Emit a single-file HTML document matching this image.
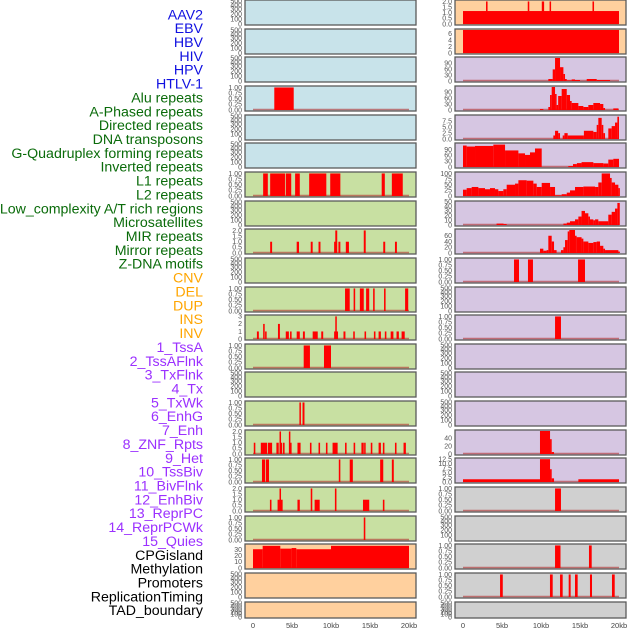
<!DOCTYPE html>
<html><head><meta charset="utf-8">
<style>
html,body{margin:0;padding:0;background:#fff;}
svg{display:block;font-family:"Liberation Sans",sans-serif;}
</style></head>
<body>
<svg id="chart" width="630" height="630" viewBox="0 0 630 630" xmlns="http://www.w3.org/2000/svg"></svg>
<script>
// ---- data ----
const featureLabels = ["AAV2","EBV","HBV","HIV","HPV","HTLV-1","Alu repeats","A-Phased repeats","Directed repeats","DNA transposons","G-Quadruplex forming repeats","Inverted repeats","L1 repeats","L2 repeats","Low_complexity A/T rich regions","Microsatellites","MIR repeats","Mirror repeats","Z-DNA motifs","CNV","DEL","DUP","INS","INV","1_TssA","2_TssAFlnk","3_TxFlnk","4_Tx","5_TxWk","6_EnhG","7_Enh","8_ZNF_Rpts","9_Het","10_TssBiv","11_BivFlnk","12_EnhBiv","13_ReprPC","14_ReprPCWk","15_Quies","CPGisland","Methylation","Promoters","ReplicationTiming","TAD_boundary"];
const labelColors = {virus:"#1010e0",repeat:"#0a6b0a",sv:"#ffa500",hmm:"#9b30ff",other:"#000"};
const xTickValues = [0,5000,10000,15000,20000];
const xTickLabels = ["0","5kb","10kb","15kb","20kb"];

// segments in kb: [start, end, value]
const L3 = [[2.73,5.22,1]];
const L6 = [[1.3,1.9,1],[2.2,4.1,1],[4.2,4.9,1],[5.4,6.0,1],[7.2,9.4,1],[9.9,11.2,1],[16.5,16.9,1],[17.8,19.2,1]];
const L8 = [[2.2,2.45,1],[5.6,5.9,1],[7.4,7.65,1],[8.4,8.65,1],[10.4,10.55,1],[10.55,10.8,2],[10.95,11.2,1],[11.9,12.3,1],[14.2,14.45,2],[16.7,16.95,1],[18.2,18.45,1]];
const L10 = [[11.8,12.4,1],[12.9,13.1,1],[13.7,14.2,1],[14.5,14.9,1],[15.4,15.6,1],[16.8,17.0,1],[19.5,19.9,1]];
const L11 = [[0.5,0.75,1],[1.3,1.5,2],[1.55,1.75,1],[3.2,3.45,2],[4.2,4.6,1],[4.75,4.95,1],[5.6,6.0,1],[6.4,6.65,1],[7.65,8.3,1],[8.75,9.0,1],[10.4,10.55,1],[10.55,10.7,3],[10.7,10.9,1],[11.6,11.85,1],[12.85,13.05,1],[14.3,14.5,1],[15.5,15.7,1],[16.1,16.4,1],[16.9,17.1,1],[17.65,18.0,1],[18.4,18.7,1],[19.05,19.45,1]];
const L12 = [[6.5,7.3,1],[9.1,10.0,1]];
const L14 = [[5.95,6.1,1],[6.35,6.6,1]];
const L15 = [[0.1,0.3,1],[1.0,1.8,1],[1.9,2.45,1],[3.0,3.3,1],[3.4,3.55,2],[3.55,3.7,1],[3.85,4.05,1],[4.6,4.75,2],[4.75,4.95,1],[5.7,6.1,1],[7.3,7.5,1],[8.4,8.6,1],[9.35,9.55,1],[10.2,10.85,1],[11.8,12.0,1],[12.9,13.1,1],[13.9,14.2,1],[14.25,14.4,1],[15.1,15.3,1],[16.1,16.4,1],[16.65,16.85,1],[18.2,18.4,1],[19.3,19.6,1]];
const L16 = [[1.15,1.55,1],[1.65,2.05,1],[11.0,11.2,1],[12.4,12.8,1],[16.3,16.7,1],[17.8,18.05,1]];
const L17 = [[2.17,2.37,1],[3.15,3.4,1],[3.4,3.55,2],[3.55,3.8,1],[5.7,6.0,1],[7.4,7.6,2],[7.9,8.55,1],[10.5,10.7,2],[14.1,14.9,1],[16.65,16.85,1]];
const L18 = [[14.2,14.4,1]];
const L19 = [[0,1.24,31],[1.24,3.5,36.6],[3.5,4.95,32],[4.95,5.55,33],[5.55,10.0,31],[10.0,20,36.6]];

const R0 = [[0,20,1.15],[2.95,3.15,2],[8.3,8.5,2],[10.1,10.4,2],[11.1,11.25,2],[16.6,16.8,2]];
const R1 = [[0,20,7.2]];
const R2 = [[10.94,11.5,10],[11.5,11.8,58],[11.8,12.44,115],[12.44,12.87,69],[12.87,13.08,35],[13.08,13.3,10],[13.3,13.93,3],[13.93,14.36,8],[14.36,15.0,5],[15.86,17.14,10],[17.14,18.85,5]];
const R3 = [[9.87,10.3,5],[10.94,11.16,15],[11.16,11.37,75],[11.37,11.8,115],[11.8,12.0,80],[12.0,12.2,25],[12.2,12.65,70],[12.65,13.3,105],[13.3,13.72,75],[13.72,13.93,45],[13.93,14.79,35],[14.79,15.43,20],[15.43,16.07,15],[16.07,16.71,25],[16.71,17.57,35],[17.57,17.99,30],[17.99,18.21,10],[19.27,19.92,8]];
const R4 = [[11.58,11.8,1.5],[11.8,12.2,3.5],[12.2,12.44,2.5],[12.78,13.0,1.5],[13.0,13.42,2.5],[13.42,15.5,1.5],[15.5,16.71,3.5],[16.71,17.14,3],[17.14,17.35,6],[17.35,17.78,9],[17.78,17.99,6],[17.99,18.21,2.5],[18.63,19.06,4.5],[19.06,19.49,5.5],[19.49,19.79,7],[19.79,20,9.5]];
const R5 = [[0,0.47,110],[0.47,1.54,105],[1.54,3.89,108],[3.89,5.39,115],[5.39,7.1,85],[7.1,7.95,70],[7.95,8.59,62],[8.59,9.23,75],[9.23,10.09,95],[13.5,14.1,5],[14.1,14.6,15],[14.6,15.2,20],[15.2,16.71,25],[16.71,17.99,20],[17.99,18.63,18],[18.63,19.27,38],[19.27,20,42]];
const R6 = [[0,0.47,28],[0.47,1.11,35],[1.11,1.97,40],[1.97,2.82,35],[2.82,3.46,30],[3.46,4.1,35],[4.1,4.53,30],[4.53,5.17,22],[5.17,5.6,30],[5.6,6.67,50],[6.67,7.1,55],[7.1,8.16,70],[8.16,9.02,68],[9.02,9.45,55],[9.45,10.09,40],[10.09,11.16,58],[11.16,11.8,40],[11.8,12.65,3],[12.65,13.3,8],[13.3,13.72,15],[13.72,14.36,25],[14.36,15.43,40],[15.43,16.93,42],[16.93,17.35,40],[17.35,17.78,60],[17.78,18.85,100],[18.85,19.06,80],[19.06,19.49,60],[19.49,19.92,50],[19.92,20.1,35]];
const R7 = [[4.3,5.2,3],[5.2,5.6,2],[12.87,13.3,3],[13.3,13.72,5],[13.72,14.36,8],[14.36,14.79,12],[14.79,15.2,18],[15.2,15.64,30],[15.64,16.07,25],[16.07,16.28,18],[16.28,16.71,12],[16.71,16.93,10],[16.93,17.35,12],[17.35,18.63,8],[18.63,19.06,22],[19.06,19.49,28],[19.49,19.79,35],[19.79,20.1,47]];
const R8 = [[9.87,10.3,15],[10.3,10.72,8],[10.72,10.94,10],[10.94,11.37,60],[11.37,11.67,40],[11.67,12.0,10],[12.56,12.87,10],[12.87,13.08,20],[13.08,13.42,45],[13.42,13.63,75],[13.63,14.36,80],[14.36,14.57,60],[14.57,15.2,55],[15.2,15.43,50],[15.43,16.07,40],[16.07,16.71,35],[16.71,17.14,38],[17.14,17.57,40],[17.57,17.99,25],[17.99,18.21,15],[18.21,19.92,10],[19.92,20.1,5]];
const R9 = [[6.54,7.18,1],[8.33,8.97,1],[14.75,15.64,1]];
const R11 = [[11.8,12.56,1]];
const R15 = [[9.87,11.16,59],[11.16,11.37,38],[11.37,11.67,5]];
const R16 = [[0,9.87,1.5],[9.87,11.16,12.5],[11.16,11.37,7],[11.37,11.67,2],[14.79,20,1.5]];
const R17 = [[11.8,12.56,1]];
const R19 = [[11.8,12.5,1],[16.15,16.5,1]];
const R20 = [[4.75,5.1,1],[11.15,11.5,1],[12.44,12.78,1],[13.55,13.8,1],[14.36,14.7,1],[16.28,16.54,1],[19.1,19.45,1]];

const tick1 = [0,0.25,0.5,0.75,1], lab1 = ["0.00","0.25","0.50","0.75","1.00"];
const tick2 = [0,0.5,1,1.5,2], lab2 = ["0.0","0.5","1.0","1.5","2.0"];

// ---- layout ----
const svg = document.getElementById('chart');
const NS = "http://www.w3.org/2000/svg";
const colX = [245, 455], panelW = 171, dataX0Off = 8, pxPerKb = 7.8;
const bgBlue="#c8e3ea", bgGreen="#c8e0a2", bgOrange="#ffd09e", bgPurple="#d6c6e2", bgGray="#d0d0d0";
function mk(tag, attrs){const e=document.createElementNS(NS,tag);for(const k in attrs)e.setAttribute(k,attrs[k]);svg.appendChild(e);return e;}

function rowTop(i){return Math.round(i*28.65);}
function rowH(i){return i===21?16:25;}

featureLabels.forEach((t,j)=>{
  let c = j<6?labelColors.virus: j<19?labelColors.repeat: j<24?labelColors.sv: j<39?labelColors.hmm: labelColors.other;
  const el = mk('text',{x:203,y:15.5+j*13.86,'text-anchor':'end','dominant-baseline':'middle','font-size':'14.2',fill:c});
  el.textContent=t;
  
  
});

function panel(col,row,bg,segs,ymax,ticks,labs,name){
  const x=colX[col], y=rowTop(row), h=rowH(row);
  const g = mk('rect',{x:x,y:y,width:panelW,height:h,fill:bg,stroke:'#5a5a5a','stroke-width':1.3});
  
  
  const x0 = x+dataX0Off;
  const yb = y+h-1, yt = y+1;
  const ys = v => yb - (v/ymax)*(yb-yt);
  const xs = kb => x0 + Math.max(0,Math.min(20.1,kb))*pxPerKb;
  if(segs){
    const bl = mk('line',{x1:xs(0),x2:xs(20),y1:yb-0.5,y2:yb-0.5,stroke:'#b03030','stroke-width':1.5,'stroke-opacity':0.6});
    
    
    segs.forEach((s,k)=>{
      const r = mk('rect',{x:xs(s[0]),y:ys(s[2]),width:Math.max(1.5,xs(s[1])-xs(s[0])),height:yb-ys(s[2]),fill:'#ff0000'});
      
      
    });
    ticks.forEach((tv,k)=>{
      const t = mk('text',{x:x-3,y:ys(tv)+2.3,'text-anchor':'end','font-size':'7',fill:'#555'});
      t.textContent=labs[k];
      
      
    });
  } else {
    const offs = h===16?[1,4,7,10,12,15]:[1,5,9,14,19,24];
    ["500","400","300","200","100","0"].forEach((lb,k)=>{
      const t = mk('text',{x:x-3,y:y+offs[k]+2.3,'text-anchor':'end','font-size':'7',fill:'#555'});
      t.textContent=lb;
      
      
    });
  }
}

const leftBg = i => i<6?bgBlue: i<19?bgGreen: bgOrange;
const leftData = {3:[L3,1.02,tick1,lab1],6:[L6,1.02,tick1,lab1],8:[L8,2.04,tick2,lab2],10:[L10,1.02,tick1,lab1],
 11:[L11,3.05,[0,1,2,3],["0","1","2","3"]],12:[L12,1.02,tick1,lab1],14:[L14,1.02,tick1,lab1],15:[L15,2.04,tick2,lab2],
 16:[L16,1.02,tick1,lab1],17:[L17,2.04,tick2,lab2],18:[L18,1.02,tick1,lab1],19:[L19,38,[0,10,20,30],["0","10","20","30"]]};
for(let i=0;i<22;i++){
  const d=leftData[i];
  if(d) panel(0,i,leftBg(i),d[0],d[1],d[2],d[3],'left-row-'+i);
  else panel(0,i,leftBg(i),null,0,null,null,'left-row-'+i);
}
const rightBg = i => i<2?bgOrange: i<17?bgPurple: bgGray;
const rightData = {0:[R0,2.04,tick2,lab2],1:[R1,7.2,[0,2,4,6],["0","2","4","6"]],
 2:[R2,115,[0,30,60,90],["0","30","60","90"]],3:[R3,115,[0,30,60,90],["0","30","60","90"]],
 4:[R4,9.8,[0,2.5,5,7.5],["0.0","2.5","5.0","7.5"]],5:[R5,118,[0,30,60,90],["0","30","60","90"]],
 6:[R6,102,[0,25,50,75,100],["0","25","50","75","100"]],7:[R7,49,[0,10,20,30,40,50],["0","10","20","30","40","50"]],
 8:[R8,80,[0,20,40,60],["0","20","40","60"]],9:[R9,1.02,tick1,lab1],11:[R11,1.02,tick1,lab1],
 15:[R15,59,[0,20,40],["0","20","40"]],16:[R16,12.6,[0,2.5,5,7.5,10,12.5],["0.0","2.5","5.0","7.5","10.0","12.5"]],
 17:[R17,1.02,tick1,lab1],19:[R19,1.02,tick1,lab1],20:[R20,1.02,tick1,lab1]};
for(let i=0;i<22;i++){
  const d=rightData[i];
  if(d) panel(1,i,rightBg(i),d[0],d[1],d[2],d[3],'right-row-'+i);
  else panel(1,i,rightBg(i),null,0,null,null,'right-row-'+i);
}
[0,1].forEach(c=>{
  xTickValues.forEach((v,k)=>{
    const t = mk('text',{x:colX[c]+dataX0Off+(v/1000)*pxPerKb,y:628,'text-anchor':'middle','font-size':'7.5',fill:'#444'});
    t.textContent=xTickLabels[k];
    
    
  });
});
</script>
</body></html>
